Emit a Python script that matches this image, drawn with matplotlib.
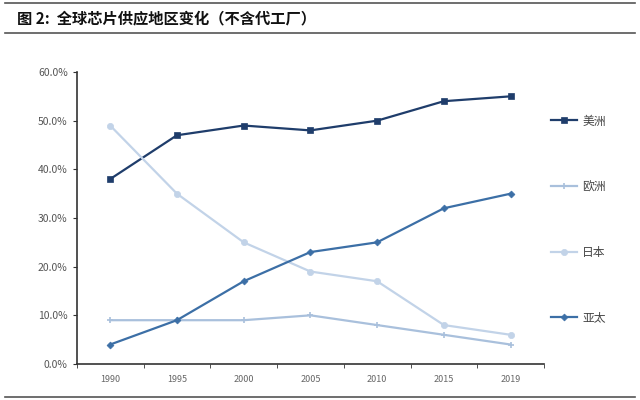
import matplotlib
matplotlib.use("Agg")
import matplotlib.pyplot as plt
import numpy as np
from matplotlib.lines import Line2D
from matplotlib.ticker import FuncFormatter

plt.rcParams['font.family'] = ['Noto Sans CJK SC', 'DejaVu Sans']

years = ["1990", "1995", "2000", "2005", "2010", "2015", "2019"]
americas = [38, 47, 49, 48, 50, 54, 55]
europe = [9, 9, 9, 10, 8, 6, 4]
japan = [49, 35, 25, 19, 17, 8, 6]
asia = [4, 9, 17, 23, 25, 32, 35]

names = ["美洲", "欧洲", "日本", "亚太"]
series = [americas, europe, japan, asia]
colors = ["#1f3d6b", "#a9c0dc", "#c2d3e8", "#3c6fa6"]
markers = ["s", "+", "o", "D"]
msizes = [4.5, 5, 4.5, 3.5]

fig = plt.figure(figsize=(6.4, 4.0), dpi=100)
ax = fig.add_axes([0.12, 0.09, 0.73, 0.73])

x = np.arange(len(years))
handles = []
for vals, name, c, m, ms in zip(series, names, colors, markers, msizes):
    h, = ax.plot(x, vals, color=c, marker=m, markersize=ms, linewidth=1.6,
                 markeredgewidth=1.2 if m == "+" else 0.5, label=name)
    handles.append(h)

ax.set_xlim(-0.5, len(years) - 0.5)
ax.set_ylim(0, 60)
ax.set_yticks(np.arange(0, 61, 10))
ax.yaxis.set_major_formatter(FuncFormatter(lambda v, p: "%.1f%%" % v))
ax.set_xticks(x)
ax.set_xticklabels(years)
ax.set_xticks(np.arange(-0.5, len(years), 1), minor=True)
ax.tick_params(axis="x", which="major", length=0, labelsize=6.5, colors="#666666", pad=8)
ax.tick_params(axis="x", which="minor", length=3, direction="out", color="#333333")
ax.tick_params(axis="y", length=3, direction="out", labelsize=7.5, labelcolor="#555555", color="#333333")
for s in ["top", "right"]:
    ax.spines[s].set_visible(False)
for s in ["left", "bottom"]:
    ax.spines[s].set_color("#333333")
    ax.spines[s].set_linewidth(1.2)

leg = fig.legend(handles=handles, loc="upper left", bbox_to_anchor=(0.845, 0.74),
                 frameon=False, fontsize=8.5, labelspacing=4.45, handlelength=2.2,
                 handletextpad=0.4, labelcolor="#444444")

fig.text(0.027, 0.955, "图 2:  全球芯片供应地区变化（不含代工厂）", fontsize=11,
         fontweight="bold", va="center", ha="left", color="#111111")
for yy in [0.992, 0.918, 0.008]:
    fig.add_artist(Line2D([0.008, 0.992], [yy, yy], color="#555555", linewidth=1.2))

fig.savefig("out.png", dpi=100)
